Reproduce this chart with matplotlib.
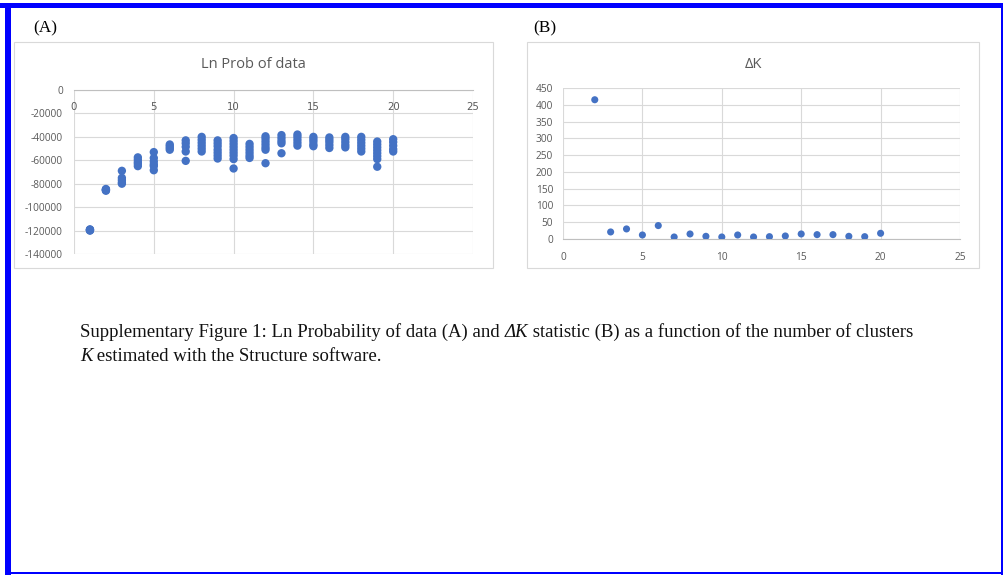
import matplotlib
matplotlib.use("Agg")
import matplotlib.pyplot as plt
from matplotlib.patches import Rectangle

plt.rcParams["axes.unicode_minus"] = False

# ---------------- data ----------------
k_values = list(range(1, 21))
ln_prob = {
    1: [-119000, -119500, -120000, -119200, -119800],
    2: [-85000, -85500, -84500, -86000, -85200],
    3: [-69000, -75000, -77000, -79000, -80000],
    4: [-57500, -59500, -61500, -63000, -65000],
    5: [-53000, -58000, -61000, -63500, -65000, -68500],
    6: [-46500, -48000, -49500, -51000],
    7: [-43000, -45500, -48500, -52500, -60500],
    8: [-40000, -42500, -45000, -47500, -50000, -52500],
    9: [-43000, -45500, -48000, -51000, -53500, -56000, -58500],
    10: [-41000, -43500, -46000, -48500, -51000, -53500, -56000, -59000, -67000],
    11: [-46000, -48500, -51000, -53500, -56000, -58000],
    12: [-39500, -41500, -44000, -46500, -49000, -51000, -62500],
    13: [-38500, -41000, -43500, -45500, -54000],
    14: [-38000, -40000, -42500, -45000, -47500],
    15: [-40000, -42000, -44000, -46500, -48000],
    16: [-40500, -42500, -44500, -47000, -49500],
    17: [-40000, -42000, -44500, -47000, -49000],
    18: [-40000, -42500, -45000, -47500, -50000, -52500],
    19: [-44000, -46500, -49000, -51500, -54000, -56500, -59000, -65500],
    20: [-42000, -44500, -47500, -50500, -52500],
}
delta_k_x = list(range(2, 21))
delta_k = [415, 21, 30, 12, 40, 6, 15, 8, 6, 12, 6, 7, 9, 15, 13, 13, 8, 7, 17]

title_a = "Ln Prob of data"
title_b = "ΔK"
xticks = [0, 5, 10, 15, 20, 25]
yticks_a = [0, -20000, -40000, -60000, -80000, -100000, -120000, -140000]
yticks_b = [0, 50, 100, 150, 200, 250, 300, 350, 400, 450]

# ---------------- figure ----------------
W, H = 1004, 575
fig = plt.figure(figsize=(W / 100, H / 100), dpi=100)
fig.patch.set_facecolor("white")

def fx(x):
    return x / W

def fy(y):
    return 1 - y / H

def px_rect(x0, y0, x1, y1, **kw):
    r = Rectangle((fx(x0), fy(y1)), fx(x1) - fx(x0), fy(y0) - fy(y1),
                  transform=fig.transFigure, **kw)
    fig.add_artist(r)

BLUE_BORDER = "#0000FF"
# page borders
px_rect(0, 3, W, 8, facecolor=BLUE_BORDER, edgecolor="none")
px_rect(5, 3, 11, H, facecolor=BLUE_BORDER, edgecolor="none")
px_rect(1001, 3, 1003, H, facecolor=BLUE_BORDER, edgecolor="none")
px_rect(5, 572, W, 574, facecolor=BLUE_BORDER, edgecolor="none")

# chart area boxes
px_rect(14, 42, 493, 268, facecolor="none", edgecolor="#D9D9D9", linewidth=0.8)
px_rect(527, 42, 979, 268, facecolor="none", edgecolor="#D9D9D9", linewidth=0.8)

serif = ["Liberation Serif", "DejaVu Serif"]
sans = ["Open Sans", "DejaVu Sans"]
fig.text(fx(33), fy(28), "(A)", family=serif, fontsize=12.5, va="center", ha="left")
fig.text(fx(533), fy(28), "(B)", family=serif, fontsize=12.5, va="center", ha="left")

fig.text(fx(253), fy(64), title_a, family=sans, fontsize=10.5, color="#595959",
         ha="center", va="center")
fig.text(fx(753), fy(64), title_b, family=sans, fontsize=10.5, color="#595959",
         ha="center", va="center")

DOT = "#4472C4"
GRID = "#D9D9D9"
TICKC = "#595959"

def style_axes(ax):
    for s in ax.spines.values():
        s.set_visible(False)
    ax.grid(True, color=GRID, linewidth=0.8)
    ax.set_axisbelow(True)
    ax.tick_params(length=0, labelsize=7.3, labelcolor=TICKC)
    for lab in ax.get_xticklabels() + ax.get_yticklabels():
        lab.set_family(sans)

# ----- Panel A -----
axA = fig.add_axes([fx(74), fy(254), fx(473) - fx(74), fy(90) - fy(254)])
axA.set_xlim(0, 25)
axA.set_ylim(-140000, 0)
axA.set_xticks(xticks)
axA.set_yticks(yticks_a)
for k in k_values:
    vals = ln_prob[k]
    axA.scatter([k] * len(vals), vals, s=36, color=DOT, edgecolors="none", zorder=3)
style_axes(axA)
axA.spines["bottom"].set_visible(True)
axA.spines["bottom"].set_position(("data", 0))
axA.spines["bottom"].set_color("#BFBFBF")
axA.spines["bottom"].set_linewidth(0.8)
axA.tick_params(axis="x", pad=9)
axA.tick_params(axis="y", pad=8)

# ----- Panel B -----
axB = fig.add_axes([fx(563), fy(239), fx(960) - fx(563), fy(88) - fy(239)])
axB.set_xlim(0, 25)
axB.set_ylim(0, 450)
axB.set_xticks(xticks)
axB.set_yticks(yticks_b)
axB.scatter(delta_k_x, delta_k, s=26, color=DOT, edgecolors="none", zorder=3)
style_axes(axB)
axB.spines["bottom"].set_visible(True)
axB.spines["bottom"].set_color("#BFBFBF")
axB.spines["bottom"].set_linewidth(0.8)
axB.tick_params(axis="x", pad=9)
axB.tick_params(axis="y", pad=7)

# ----- caption -----
fig.canvas.draw()
renderer = fig.canvas.get_renderer()

def draw_pieces(pieces, x_px, y_px, size=13.5):
    x = x_px
    for txt, style in pieces:
        t = fig.text(fx(x), fy(y_px), txt, family=serif, style=style,
                     fontsize=size, va="baseline", ha="left", color="#111111")
        bb = t.get_window_extent(renderer=renderer)
        x += bb.width

line1 = [("Supplementary Figure 1: Ln Probability of data (A) and ", "normal"),
         ("ΔK", "italic"),
         (" statistic (B) as a function of the number of clusters", "normal")]
line2 = [("K", "italic"), (" estimated with the Structure software.", "normal")]
draw_pieces(line1, 80, 337)
draw_pieces(line2, 80, 361)

fig.savefig("out.png", dpi=100)
